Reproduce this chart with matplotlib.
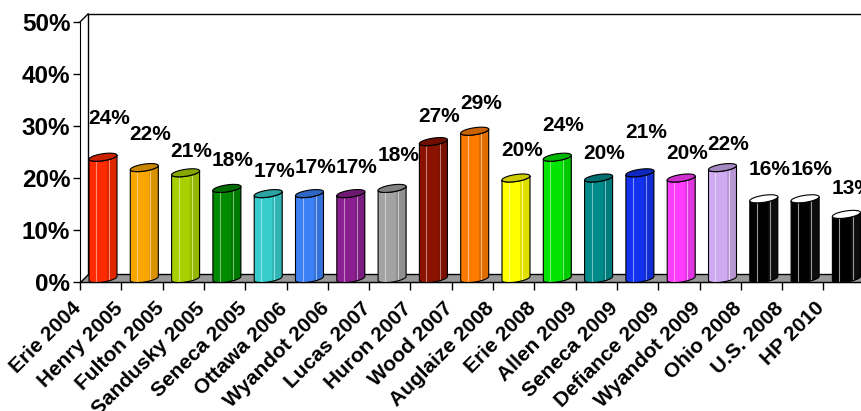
import matplotlib
matplotlib.use("Agg")
import matplotlib.pyplot as plt
import matplotlib.colors as mcolors
import matplotlib.transforms as mtransforms
from matplotlib.patches import Polygon, Rectangle
from matplotlib.lines import Line2D
import numpy as np

counties = ["Erie 2004", "Henry 2005", "Fulton 2005", "Sandusky 2005", "Seneca 2005",
            "Ottawa 2006", "Wyandot 2006", "Lucas 2007", "Huron 2007", "Wood 2007",
            "Auglaize 2008", "Erie 2008", "Allen 2009", "Seneca 2009", "Defiance 2009",
            "Wyandot 2009", "Ohio 2008", "U.S. 2008", "HP 2010"]
rates = [24, 22, 21, 18, 17, 17, 17, 18, 27, 29, 20, 24, 20, 21, 20, 22, 16, 16, 13]
colors = ["#ff2a00", "#f9a600", "#a8cf00", "#008a00", "#36cccc", "#3b80f5", "#8c1f90",
          "#a3a3a3", "#8c1200", "#ff7b00", "#ffff00", "#00e400", "#008b8b", "#1232f0",
          "#ff3cff", "#cfaaf0", "#000000", "#000000", "#000000"]

# label lift above each bar top, in pixels
lift = [39, 33, 21, 28, 22, 26, 26, 33, 25, 28, 28, 32, 25, 40, 25, 23, 29, 29, 26]

plt.rcParams['font.family'] = ['Liberation Sans', 'DejaVu Sans']
plt.rcParams['font.weight'] = 'bold'

W, H = 861, 411
fig = plt.figure(figsize=(W / 100, H / 100), dpi=100)
px_x = 41.3   # pixels per category
px_y = 5.2    # pixels per percent
ax = fig.add_axes([80 / W, (H - 282) / H, 19 * px_x / W, 52 * px_y / H])
ax.set_xlim(0, 19)
ax.set_ylim(0, 52)
for s in ["top", "right"]:
    ax.spines[s].set_visible(False)
ax.spines["left"].set_bounds(0, 50)
ax.patch.set_visible(False)

dx = 8 / px_x
dy = 8 / px_y
n = len(rates)

# floor and back wall outline
ax.add_patch(Polygon([(0, 0), (n + 1, 0), (n + 1, dy), (dx, dy)], closed=True,
                     facecolor="#999999", edgecolor="black", lw=1, zorder=1, clip_on=False))
ax.add_line(Line2D([dx, dx], [dy, 50 + dy], color="black", lw=1, zorder=1, clip_on=False))
ax.add_line(Line2D([0, dx], [50, 50 + dy], color="black", lw=1, zorder=1, clip_on=False))
ax.add_line(Line2D([dx, n + 1], [50 + dy, 50 + dy], color="black", lw=1, zorder=1, clip_on=False))

w = 28 / px_x
b = 3.5 / px_y
k = 2.0 / px_y   # tilt of the cylinder ends
t = np.linspace(0, np.pi, 40)
t2 = np.linspace(0, 2 * np.pi, 80)
for i, (v, c) in enumerate(zip(rates, colors)):
    xc = i + 23 / px_x
    x0, x1 = xc - w / 2, xc + w / 2
    bottom = np.column_stack([xc - w / 2 * np.cos(t),
                              b - b * np.sin(t) - k * np.cos(t)])
    top = np.column_stack([xc + w / 2 * np.cos(t), v - b * np.sin(t) + k * np.cos(t)])
    outline = np.vstack([[(x0, v - k)], bottom, top])
    body = Polygon(outline, closed=True, facecolor=c, edgecolor="none", zorder=3)
    ax.add_patch(body)
    rgb = np.array(mcolors.to_rgb(c))
    if rgb.sum() > 0:
        dark = rgb * 0.88
        lite = np.minimum(rgb + (1 - rgb) * 0.45, 1)
        top_col = rgb * 0.8
    else:
        dark = np.array([0.05, 0.05, 0.05])
        lite = np.array([0.6, 0.6, 0.6])
        top_col = np.array([1, 1, 1])
    strip = Rectangle((xc + 0.15 * w, 0), 0.5 * w, v + 2, facecolor=dark, lw=0, zorder=3.1)
    ax.add_patch(strip)
    strip.set_clip_path(body)
    for f in (0.25, 0.72):
        hl = ax.add_line(Line2D([x0 + f * w] * 2, [0, v + 2], color=lite, lw=0.8, zorder=3.2))
        hl.set_clip_path(body)
    ax.add_patch(Polygon(outline, closed=True, fill=False, edgecolor="black",
                         lw=0.8, zorder=3.3))
    cap = np.column_stack([xc + w / 2 * np.cos(t2),
                           v + b * np.sin(t2) + k * np.cos(t2)])
    ax.add_patch(Polygon(cap, closed=True, facecolor=top_col, edgecolor="black",
                         lw=0.8, zorder=3.4))
    ax.annotate(f"{v}%", (xc, v), xytext=(6 * 0.72, lift[i] * 0.72),
                textcoords="offset points", ha="center", va="center",
                fontsize=15, fontweight="bold", zorder=5, annotation_clip=False)

ax.set_yticks(range(0, 51, 10))
ax.set_yticklabels([f"{y}%" for y in range(0, 51, 10)], fontsize=17.5, fontweight="bold")
ax.tick_params(axis="y", length=5, width=1, pad=2)
ax.set_xticks(range(n))
ax.set_xticklabels(counties, rotation=45, ha="right", va="top",
                   fontsize=15, fontweight="bold")
ax.tick_params(axis="x", length=6, width=1, pad=6)
shift = mtransforms.ScaledTranslation(5 / 100, 0, fig.dpi_scale_trans)
for lab in ax.get_xticklabels():
    lab.set_transform(lab.get_transform() + shift)

fig.savefig("out.png", dpi=100)
